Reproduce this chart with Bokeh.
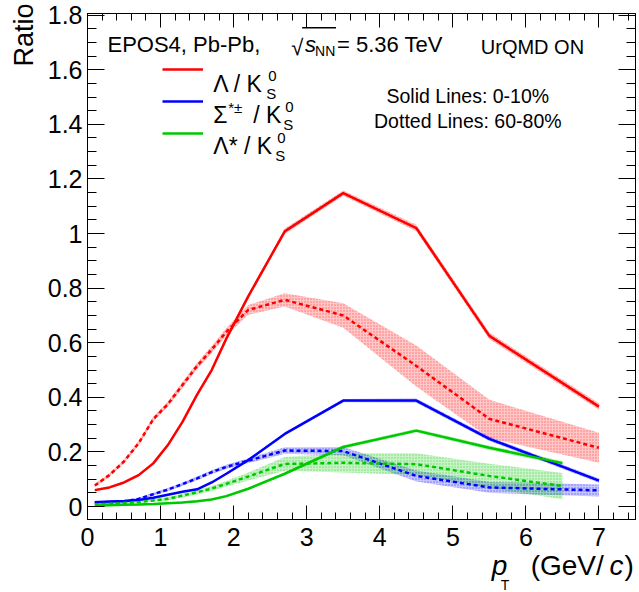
import numpy as np
from bokeh.plotting import figure
from bokeh.layouts import column
from bokeh.models import (Range1d, LinearAxis, FixedTicker, Label, Legend, LegendItem,
                          BoxAnnotation, ColumnDataSource, CustomLabelingPolicy, Title)
from bokeh.embed import file_html
from bokeh.resources import INLINE

# ---------------- data ----------------
pt = [0.1, 0.3, 0.5, 0.7, 0.9, 1.1, 1.3, 1.5, 1.7, 1.9, 2.2, 2.7, 3.5, 4.5, 5.5, 7.0]
pt_lst = [0.1, 0.3, 0.5, 0.7, 0.9, 1.1, 1.3, 1.5, 1.7, 1.9, 2.2, 2.7, 3.5, 4.5, 5.5, 6.5]

lam_central = [0.060, 0.070, 0.088, 0.115, 0.158, 0.225, 0.310, 0.410, 0.500, 0.615, 0.770, 1.008, 1.148, 1.020, 0.625, 0.366]
lam_central_err = [0.004, 0.004, 0.004, 0.005, 0.005, 0.006, 0.006, 0.007, 0.007, 0.008, 0.008, 0.010, 0.010, 0.012, 0.012, 0.012]
lam_periph = [0.077, 0.115, 0.165, 0.232, 0.320, 0.375, 0.445, 0.515, 0.575, 0.640, 0.720, 0.757, 0.700, 0.515, 0.321, 0.215]
lam_periph_err = [0.006, 0.006, 0.007, 0.008, 0.009, 0.010, 0.011, 0.012, 0.013, 0.014, 0.018, 0.024, 0.045, 0.075, 0.070, 0.055]

sig_central = [0.016, 0.018, 0.020, 0.024, 0.032, 0.043, 0.054, 0.063, 0.088, 0.120, 0.170, 0.266, 0.388, 0.388, 0.248, 0.095]
sig_central_err = [0.003, 0.003, 0.003, 0.003, 0.003, 0.003, 0.003, 0.003, 0.003, 0.003, 0.004, 0.005, 0.006, 0.008, 0.008, 0.008]
sig_periph = [0.016, 0.014, 0.018, 0.028, 0.045, 0.062, 0.082, 0.103, 0.126, 0.145, 0.168, 0.205, 0.203, 0.112, 0.070, 0.059]
sig_periph_err = [0.005, 0.005, 0.005, 0.005, 0.005, 0.006, 0.006, 0.007, 0.007, 0.008, 0.009, 0.012, 0.015, 0.020, 0.020, 0.022]

lst_central = [0.004, 0.005, 0.006, 0.007, 0.009, 0.012, 0.015, 0.019, 0.026, 0.038, 0.065, 0.120, 0.218, 0.278, 0.215, 0.159]
lst_central_err = [0.003, 0.003, 0.003, 0.003, 0.003, 0.003, 0.003, 0.003, 0.003, 0.004, 0.004, 0.005, 0.006, 0.007, 0.008, 0.008]
lst_periph = [0.008, 0.010, 0.013, 0.016, 0.022, 0.028, 0.040, 0.052, 0.066, 0.083, 0.110, 0.156, 0.160, 0.155, 0.112, 0.075]
lst_periph_err = [0.003, 0.003, 0.004, 0.004, 0.005, 0.006, 0.007, 0.008, 0.009, 0.010, 0.015, 0.025, 0.035, 0.040, 0.045, 0.048]

x_ticks = [0, 1, 2, 3, 4, 5, 6, 7]
x_tick_labels = ["0", "1", "2", "3", "4", "5", "6", "7"]
y_ticks = [0, 0.2, 0.4, 0.6, 0.8, 1.0, 1.2, 1.4, 1.6, 1.8]
y_tick_labels = ["0", "0.2", "0.4", "0.6", "0.8", "1", "1.2", "1.4", "1.6", "1.8"]

RED, BLUE, GREEN = "#ff0000", "#0000ff", "#00c800"
FONT = "Liberation Sans"

# ---------------- figure ----------------
W, H = 639, 592
FL, FR, FT, FB = 87, 636, 13, 519     # frame edges in page pixels
X0, X1 = 0.0, 7.5
Y0, Y1 = -0.0476, 1.806
p = figure(width=W, height=H, output_backend="svg", toolbar_location=None,
           x_range=Range1d(X0, X1), y_range=Range1d(Y0, Y1),
           min_border_left=FL, min_border_right=W - FR, min_border_top=FT,
           min_border_bottom=H - FB)
p.xgrid.visible = False
p.ygrid.visible = False
p.outline_line_color = "black"
p.background_fill_color = "white"
p.border_fill_color = "white"

xminor = list(np.round(np.arange(0, 7.6, 0.2), 3))
yminor = list(np.round(np.arange(-0.05, 1.85, 0.05), 3))

hide_all = CustomLabelingPolicy(code="for (const i of indices) { indices.unset(i) }")

def style_axis(ax, ticks, minor, labels, show, vertical):
    ax.ticker = FixedTicker(ticks=ticks, minor_ticks=minor)
    ax.major_label_overrides = {t: l for t, l in zip(ticks, labels)}
    ax.major_tick_in = 17 if vertical else 14
    ax.major_tick_out = 0
    ax.minor_tick_in = 9 if vertical else 7
    ax.minor_tick_out = 0
    ax.axis_line_color = "black"
    ax.major_tick_line_color = "black"
    ax.minor_tick_line_color = "black"
    ax.major_label_text_font = FONT
    ax.major_label_text_color = "black"
    if show:
        ax.major_label_text_font_size = "25px"
    else:
        ax.major_label_text_font_size = "1px"
        ax.major_label_standoff = 0
        ax.major_label_policy = hide_all

p.add_layout(LinearAxis(), "above")
p.add_layout(LinearAxis(), "right")
for ax in p.below:
    style_axis(ax, x_ticks, xminor, x_tick_labels, True, False)
    ax.major_label_standoff = 8
for ax in p.above:
    style_axis(ax, x_ticks, xminor, x_tick_labels, False, False)
for ax in p.left:
    style_axis(ax, y_ticks, yminor, y_tick_labels, True, True)
    ax.major_label_standoff = 5
for ax in p.right:
    style_axis(ax, y_ticks, yminor, y_tick_labels, False, True)

# y-axis title, right-aligned at the top like ROOT
p.add_layout(Title(text="Ratio", align="right", text_font=FONT, text_font_size="27px",
                   text_font_style="normal", text_color="black", offset=-10, standoff=12), "left")

# ---------------- bands + lines ----------------
def band(x, y, e, color):
    lo = [a - b for a, b in zip(y, e)]
    hi = [a + b for a, b in zip(y, e)]
    src = ColumnDataSource(dict(x=x, lo=lo, hi=hi))
    p.varea(x="x", y1="lo", y2="hi", source=src, fill_color=color, fill_alpha=0.22,
            hatch_pattern="dot", hatch_color=color, hatch_alpha=0.45, hatch_scale=3)

band(pt, lam_periph, lam_periph_err, RED)
band(pt, sig_periph, sig_periph_err, BLUE)
band(pt_lst, lst_periph, lst_periph_err, GREEN)
band(pt, lam_central, lam_central_err, RED)
band(pt, sig_central, sig_central_err, BLUE)
band(pt_lst, lst_central, lst_central_err, GREEN)

r_lam = p.line(pt, lam_central, line_color=RED, line_width=2.5)
p.line(pt, lam_periph, line_color=RED, line_width=2.5, line_dash="4 3")
r_sig = p.line(pt, sig_central, line_color=BLUE, line_width=2.5)
p.line(pt, sig_periph, line_color=BLUE, line_width=2.5, line_dash="4 3")
r_lst = p.line(pt_lst, lst_central, line_color=GREEN, line_width=2.5)
p.line(pt_lst, lst_periph, line_color=GREEN, line_width=2.5, line_dash="4 3")

# legend keys (labels drawn separately)
leg = Legend(items=[LegendItem(label=" ", renderers=[r_lam]),
                    LegendItem(label=" ", renderers=[r_sig]),
                    LegendItem(label=" ", renderers=[r_lst])],
             location=(162 - FL, FB - 143), glyph_width=41, glyph_height=20, label_height=20,
             label_width=1, label_text_font_size="1px", spacing=12, padding=0, margin=0,
             border_line_alpha=0, background_fill_alpha=0, label_standoff=0)
p.add_layout(leg, "center")

# ---------------- transparent text overlay (page-pixel coordinates) ----------------
# in a column the overlay's frame is aligned horizontally with the main frame
ov = figure(width=W, height=H, output_backend="svg", toolbar_location=None,
            x_range=Range1d(FL, FR), y_range=Range1d(H, 0),
            x_axis_type=None, y_axis_type=None,
            min_border_left=FL, min_border_right=W - FR, min_border_top=0, min_border_bottom=0)
ov.xgrid.visible = False
ov.ygrid.visible = False
ov.outline_line_color = None
ov.background_fill_alpha = 0
ov.border_fill_alpha = 0
ov.styles = {"margin-top": f"-{H}px"}

def txt(x, y, s, size, style="normal", align="left", angle=0.0):
    ov.add_layout(Label(x=x, y=y, text=s, text_font=FONT, text_font_size=f"{size}px",
                        text_font_style=style, text_align=align, text_baseline="alphabetic",
                        angle=angle, text_color="black"))

# header
txt(107, 44, "EPOS4, Pb-Pb,", 22)
txt(291, 47, "\u221a", 22)
txt(305, 44, "s", 22, style="italic")
txt(315, 50, "NN", 14)
txt(337, 44, "= 5.36 TeV", 22)
ov.add_layout(BoxAnnotation(left=302, right=336, top=26.5, bottom=28,
                            fill_color="black", fill_alpha=1, line_alpha=0))
txt(481, 46, "UrQMD ON", 20)
txt(468, 95, "Solid Lines: 0-10%", 19.5, align="center")
txt(468, 120, "Dotted Lines: 60-80%", 19.5, align="center")

# legend labels
txt(213, 83, "\u039b / K", 23)
txt(268, 75, "0", 15)
txt(266, 93, "S", 15)
txt(213, 114, "\u03a3", 23)
txt(228, 107, "*\u00b1", 15)
txt(253, 114, "/ K", 23)
txt(285, 106, "0", 15)
txt(283, 124, "S", 15)
txt(213, 145, "\u039b* / K", 23)
txt(277, 137, "0", 15)
txt(275, 155, "S", 15)

# x-axis title
txt(531, 565, "(GeV/", 28)
txt(610, 565, "c", 28, style="italic")
txt(625, 565, ")", 28)
txt(492, 565, "p", 28, style="italic")
txt(501, 584, "T", 14)

layout = column(p, ov)
open("out.html", "w").write(file_html(layout, INLINE))
